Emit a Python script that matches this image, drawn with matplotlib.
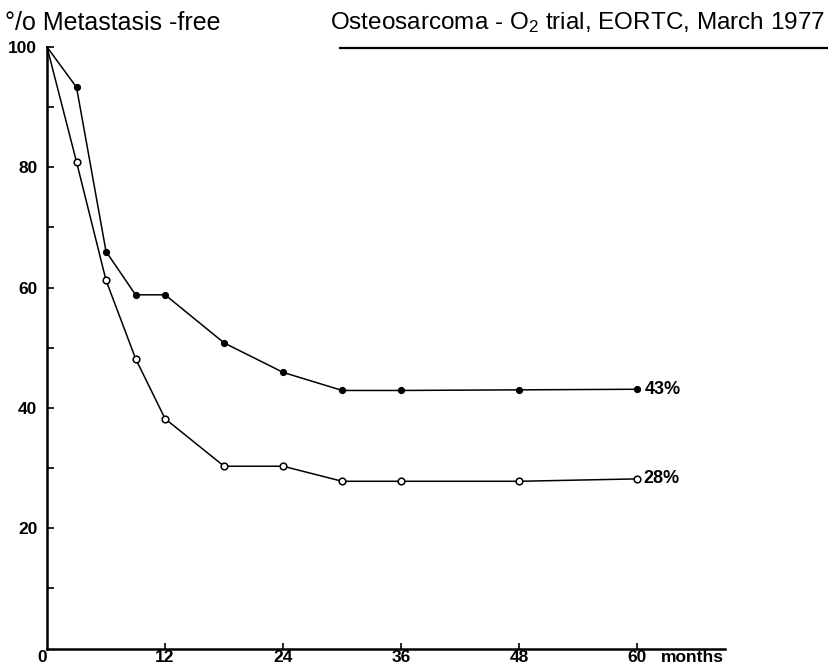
"""Osteosarcoma O2 trial (EORTC, March 1977): metastasis-free curves."""
import matplotlib
matplotlib.use("Agg")
import matplotlib.pyplot as plt
from matplotlib.lines import Line2D
from matplotlib import rcParams

rcParams["font.family"] = ["Liberation Sans", "DejaVu Sans"]
rcParams["mathtext.default"] = "regular"

months = [0, 3, 6, 9, 12, 18, 24, 30, 36, 48, 60]
filled_pct = [100, 93.3, 66.0, 58.8, 58.8, 50.8, 45.9, 42.9, 42.9, 43.0, 43.1]
open_pct = [100, 80.9, 61.2, 48.2, 38.2, 30.3, 30.3, 27.8, 27.8, 27.8, 28.2]
end_labels = ["43%", "28%"]
x_ticks = [0, 12, 24, 36, 48, 60]
y_ticks = [20, 40, 60, 80, 100]
y_minor = [10, 30, 50, 70, 90]

W, H = 829, 665
fig = plt.figure(figsize=(W / 100, H / 100), dpi=100)
ax = fig.add_axes([47 / W, (H - 648.5) / H, (725 - 47) / W, (648.5 - 47) / H])

# no marker at the common start point (0, 100)
ax.plot(months, filled_pct, color="black", lw=1.1, marker="o", ms=4.2,
        mfc="black", mec="black", markevery=slice(1, None), zorder=3,
        clip_on=False)
ax.plot(months, open_pct, color="black", lw=1.1, marker="o", ms=4.8,
        mfc="white", mec="black", mew=1.1, markevery=slice(1, None), zorder=3,
        clip_on=False)

ax.annotate(end_labels[0], xy=(months[-1], filled_pct[-1]), xytext=(5, 0),
            textcoords="offset points", ha="left", va="center",
            fontsize=13, fontweight="bold")
ax.annotate(end_labels[1], xy=(months[-1], open_pct[-1]), xytext=(4, 0),
            textcoords="offset points", ha="left", va="center",
            fontsize=13, fontweight="bold")

ax.set_xlim(0, 68.9)
ax.set_ylim(0, 100)
ax.set_xticks(x_ticks)
ax.set_xticklabels([str(t) for t in x_ticks])
ax.set_yticks(y_ticks)
ax.set_yticks(y_minor, minor=True)
ax.set_yticklabels([str(t) for t in y_ticks])
for lab in ax.get_xticklabels() + ax.get_yticklabels():
    lab.set_fontweight("bold")
    lab.set_fontsize(12.5)

ax.tick_params(axis="x", which="major", direction="in", length=4, width=1.2, pad=1)
ax.tick_params(axis="y", which="both", direction="in", length=5, width=1.2, pad=7)
ax.xaxis.get_majorticklines()[0].set_visible(False)
ax.xaxis.get_majorticklines()[1].set_visible(False)
ax.get_xticklabels()[0].set_horizontalalignment("right")

ax.annotate("months", xy=(62.4, 0), xycoords=("data", "axes fraction"),
            xytext=(0, -1), textcoords="offset points", ha="left", va="top",
            fontsize=12.5, fontweight="bold")

for s in ["top", "right"]:
    ax.spines[s].set_visible(False)
ax.spines["left"].set_linewidth(1.8)
ax.spines["bottom"].set_linewidth(1.8)
ax.patch.set_visible(False)

fig.text(5 / W, 1 - 23 / H, "°/o Metastasis -free", fontsize=18,
         ha="left", va="center")
fig.text(825 / W, 1 - 23 / H, "Osteosarcoma - O$_2$ trial, EORTC, March 1977",
         fontsize=17.5, ha="right", va="center")
fig.add_artist(Line2D([340 / W, 829 / W], [1 - 48 / H, 1 - 48 / H],
                      transform=fig.transFigure, color="black", lw=1.6))

fig.savefig("out.png", dpi=100)
